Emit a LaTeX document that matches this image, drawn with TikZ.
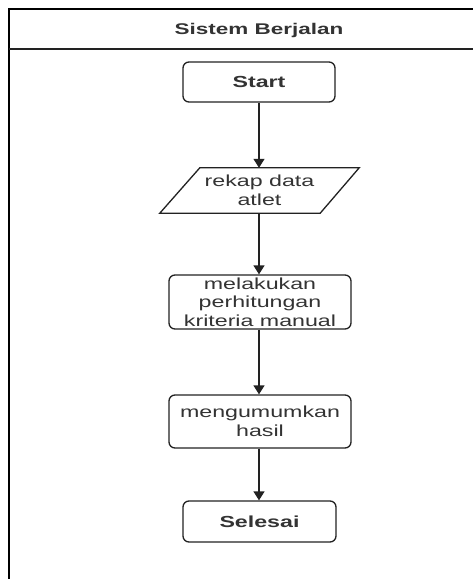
\documentclass[tikz,border=0pt]{standalone}
\usepackage{fontspec}
\setmainfont[FakeStretch=1.45]{Liberation Sans}
\usetikzlibrary{arrows.meta,calc}
\definecolor{ink}{HTML}{222222}
\definecolor{txt}{HTML}{333333}
\tikzset{
  box/.style={draw=ink, line width=1.3pt, rounded corners=6pt, align=center, text=txt, inner sep=0pt},
  lbl/.style={align=center, text=txt, inner sep=0pt},
  flow/.style={draw=ink, line width=1.3pt, -{Triangle[width=11pt,length=9pt]}},
}
\begin{document}
\begin{tikzpicture}[x=1pt,y=-1pt,font=\fontsize{16}{18.5}\selectfont]
\useasboundingbox (0,0) rectangle (473,579);
\clip (0,0) rectangle (473,579);
\fill[white] (0,0) rectangle (473,579);
% lane frame
\draw[draw=black, line width=2pt] (8.5,620) -- (8.5,9) -- (520,9);
\draw[draw=ink, line width=1.6pt] (8.5,49) -- (520,49);
\node[lbl, font=\fontsize{15.5}{18.5}\selectfont\bfseries] (title) at (259,30) {Sistem Berjalan};
% nodes
\node[box, minimum width=152pt, minimum height=40pt, font=\fontsize{16}{18.5}\selectfont\bfseries] (start) at (259,82) {Start};
\node[lbl, minimum width=199pt, minimum height=45pt] (rekap) at (259.5,190.5) {rekap data\\atlet};
\draw[draw=ink, line width=1.3pt] ($(rekap.north west)+(40,0)$) -- (rekap.north east) -- ($(rekap.south east)+(-39,0)$) -- (rekap.south west) -- cycle;
\node[box, minimum width=182pt, minimum height=54pt] (hitung) at (260,302) {melakukan\\perhitungan\\kriteria manual};
\node[box, minimum width=182pt, minimum height=53pt] (umum) at (260,421.5) {mengumumkan\\hasil};
\node[box, minimum width=153pt, minimum height=41pt, font=\fontsize{16}{18.5}\selectfont\bfseries] (selesai) at (259.5,521.5) {Selesai};
% connectors
\draw[flow] (start.south) -- (start.south |- rekap.north);
\draw[flow] (start.south |- rekap.south) -- (start.south |- hitung.north);
\draw[flow] (start.south |- hitung.south) -- (start.south |- umum.north);
\draw[flow] (start.south |- umum.south) -- (start.south |- selesai.north);
\end{tikzpicture}
\end{document}
